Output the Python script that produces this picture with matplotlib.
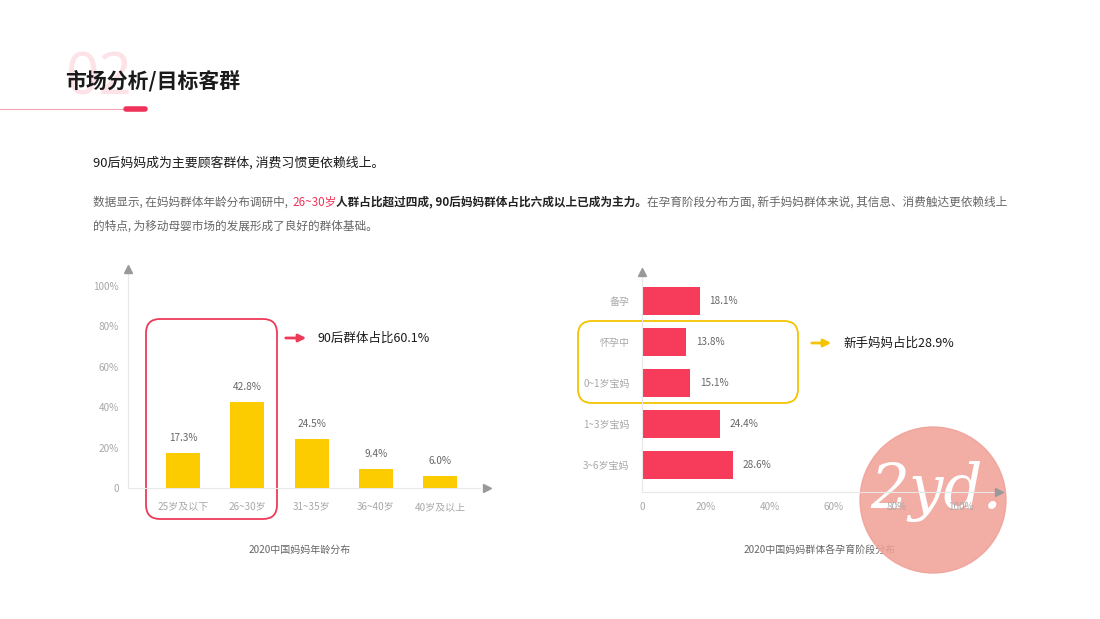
import matplotlib.pyplot as plt
from matplotlib.patches import FancyBboxPatch, Circle
from matplotlib.transforms import IdentityTransform

plt.rcParams['font.family'] = ['Noto Sans CJK SC', 'DejaVu Sans']

# data
age_groups = ['25岁及以下', '26~30岁', '31~35岁', '36~40岁', '40岁及以上']
age_share = [17.3, 42.8, 24.5, 9.4, 6.0]
stages = ['备孕', '怀孕中', '0~1岁宝妈', '1~3岁宝妈', '3~6岁宝妈']
stage_share = [18.1, 13.8, 15.1, 24.4, 28.6]
pct_ticks = [0, 20, 40, 60, 80, 100]
pct_labels = ['0', '20%', '40%', '60%', '80%', '100%']

W, H = 1100, 619
YELLOW = '#fccc00'
RED = '#f73b5b'
GRID = '#e8e8e8'
TICK = '#a8a8a8'
PIX = IdentityTransform()

fig = plt.figure(figsize=(W / 100, H / 100), dpi=100)
bg = fig.add_axes([0, 0, 1, 1])
bg.axis('off')
bg.set_xlim(0, 1)
bg.set_ylim(0, 1)


def px(x, y):
    return (x, H - y)


def box(l, t, w, h):
    return [l / W, 1 - (t + h) / H, w / W, h / H]


# header
bg.text(*px(65, 79), '02', transform=PIX, fontsize=42, fontweight='bold',
        color='#fde3e7', va='center', ha='left', family=['Noto Sans', 'DejaVu Sans'])
bg.text(*px(65, 81), '市场分析/目标客群', transform=PIX, fontsize=15,
        fontweight='bold', color='#1a1a1a', va='center', ha='left')
bg.plot([0, 125], [H - 108.5, H - 108.5], transform=PIX, color='#f5a3b1', lw=0.8)
bg.plot([126, 145], [H - 108.5, H - 108.5], transform=PIX, color='#f0335a',
        lw=4, solid_capstyle='round')

# subtitle + paragraph
bg.text(*px(93, 163), '90后妈妈成为主要顾客群体, 消费习惯更依赖线上。', transform=PIX,
        fontsize=9.3, color='#1a1a1a', va='center', ha='left')

pieces = [
    ('数据显示, 在妈妈群体年龄分布调研中,', '#666666', 'normal', 0),
    ('26~30岁', '#f0335a', 'normal', 3),
    ('人群占比超过四成, 90后妈妈群体占比六成以上已成为主力。', '#222222', 'bold', 0),
    ('在孕育阶段分布方面, 新手妈妈群体来说, 其信息、消费触达更依赖线上', '#666666', 'normal', 0),
]
prev = bg.text(*px(93, 202), pieces[0][0], transform=PIX, fontsize=8.4,
               color=pieces[0][1], va='center', ha='left')
for s, c, wgt, gap in pieces[1:]:
    prev = bg.annotate(s, xy=(1, 0.5), xycoords=prev, xytext=(gap, 0), textcoords='offset points',
                       fontsize=8.4, color=c, fontweight=wgt, va='center', ha='left')
bg.text(*px(93, 226), '的特点, 为移动母婴市场的发展形成了良好的群体基础。', transform=PIX,
        fontsize=8.4, color='#666666', va='center', ha='left')

# left chart: age distribution
ax1 = fig.add_axes(box(128, 274, 352, 214))
x1 = list(range(len(age_groups)))
ax1.bar(x1, age_share, width=0.53, color=YELLOW, zorder=2)
for xi, v in zip(x1, age_share):
    ax1.annotate(f'{v:.1f}%', (xi, v), xytext=(0, 7), textcoords='offset points',
                 ha='center', va='bottom', fontsize=7.2, color='#666666')
ax1.set_xlim(-0.86, 4.62)
ax1.set_ylim(0, 106)
ax1.set_xticks(x1)
ax1.set_xticklabels(age_groups)
ax1.set_yticks(pct_ticks)
ax1.set_yticklabels(pct_labels)
ax1.tick_params(axis='x', length=0, pad=10, labelsize=7.2, labelcolor=TICK)
ax1.tick_params(axis='y', length=0, pad=6.5, labelsize=7.2, labelcolor=TICK)
for sp in ['top', 'right']:
    ax1.spines[sp].set_visible(False)
for sp in ['left', 'bottom']:
    ax1.spines[sp].set_color(GRID)
ax1.plot([0], [1.025], marker='^', ms=6, color='#999999', transform=ax1.transAxes,
         clip_on=False, zorder=4)
ax1.plot([1.02], [0], marker='>', ms=6, color='#999999', transform=ax1.transAxes,
         clip_on=False, zorder=4)
ax1.patch.set_alpha(0)

# right chart: stages
ax2 = fig.add_axes(box(642, 277, 357, 215))
ax2.set_zorder(2)
y2 = list(range(len(stages)))
ax2.barh(y2, stage_share, height=0.7, color=RED, zorder=2)
for yi, v in zip(y2, stage_share):
    ax2.annotate(f'{v:.1f}%', (v, yi), xytext=(7, 0), textcoords='offset points',
                 ha='left', va='center', fontsize=7.2, color='#666666')
ax2.set_xlim(0, 112)
ax2.set_ylim(4.66, -0.59)
ax2.set_yticks(y2)
ax2.set_yticklabels(stages)
ax2.set_xticks(pct_ticks)
ax2.set_xticklabels(pct_labels)
ax2.tick_params(axis='x', length=0, pad=7, labelsize=7.2, labelcolor=TICK)
ax2.tick_params(axis='y', length=0, pad=9, labelsize=7.2, labelcolor=TICK)
for sp in ['top', 'right']:
    ax2.spines[sp].set_visible(False)
for sp in ['left', 'bottom']:
    ax2.spines[sp].set_color(GRID)
ax2.plot([0], [1.025], marker='^', ms=6, color='#999999', transform=ax2.transAxes,
         clip_on=False, zorder=4)
ax2.plot([1.0], [0], marker='>', ms=6, color='#999999', transform=ax2.transAxes,
         clip_on=False, zorder=4)
ax2.patch.set_alpha(0)

# highlight boxes and notes
bg.add_patch(FancyBboxPatch(px(146, 519), 131, 200, boxstyle='round,pad=0,rounding_size=14',
                            transform=PIX, fill=False, ec='#ee3a58', lw=1.3))
bg.annotate('', xy=px(309, 338), xytext=px(283, 338), xycoords='figure pixels',
            textcoords='figure pixels',
            arrowprops=dict(arrowstyle='-|>', color='#ee3a58', lw=2, mutation_scale=11))
bg.text(*px(317, 338), '90后群体占比60.1%', transform=PIX, fontsize=9,
        color='#1a1a1a', va='center', ha='left')

bg.add_patch(FancyBboxPatch(px(578, 403), 220, 82, boxstyle='round,pad=0,rounding_size=14',
                            transform=PIX, fill=False, ec='#f5c400', lw=1.3))
bg.annotate('', xy=px(834, 343), xytext=px(809, 343), xycoords='figure pixels',
            textcoords='figure pixels',
            arrowprops=dict(arrowstyle='-|>', color='#f5c400', lw=2, mutation_scale=11))
bg.text(*px(843, 343), '新手妈妈占比28.9%', transform=PIX, fontsize=9,
        color='#1a1a1a', va='center', ha='left')

# chart captions
bg.text(*px(300, 550), '2020中国妈妈年龄分布', transform=PIX, fontsize=7.2,
        color='#666666', va='center', ha='center')
bg.text(*px(820, 551), '2020中国妈妈群体各孕育阶段分布', transform=PIX, fontsize=7.2,
        color='#666666', va='center', ha='center')

# watermark, drawn under the right chart so its ticks stay readable
wm = fig.add_axes([0, 0, 1, 1])
wm.set_zorder(1)
wm.axis('off')
wm.add_patch(Circle(px(933, 500), 73, transform=PIX, color='#f0a096', alpha=0.85))
wm.text(*px(936, 492), '2yd.', transform=PIX, fontsize=44, color='white',
        fontstyle='italic', family='DejaVu Serif', va='center', ha='center')

fig.savefig('out.png', dpi=100)
